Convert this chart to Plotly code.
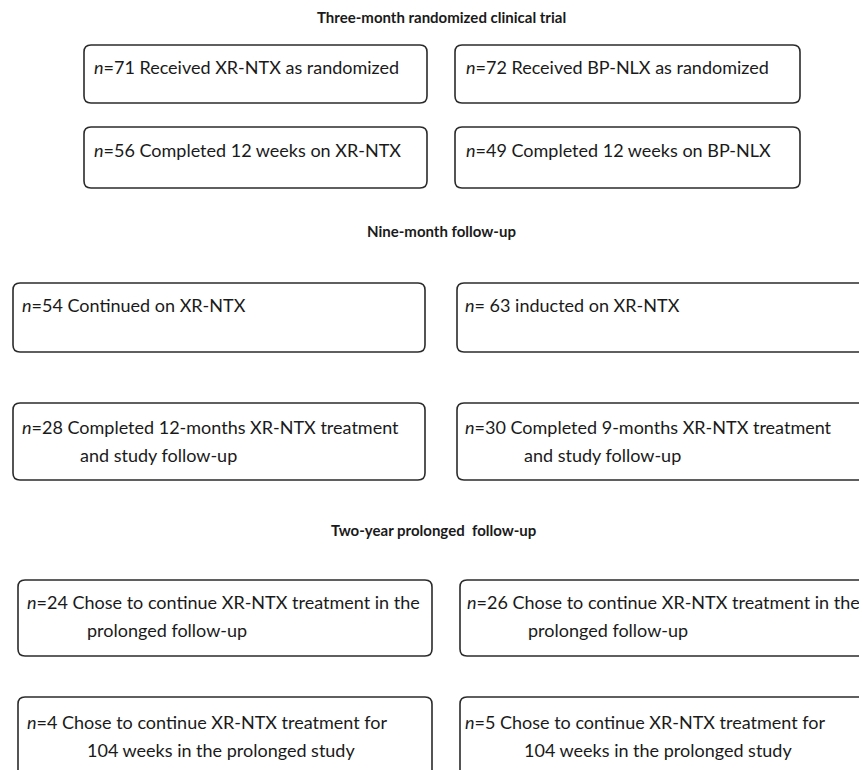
import plotly.graph_objects as go

# --- data -------------------------------------------------------------
section_titles = ["Three-month randomized clinical trial",
                  "Nine-month follow-up",
                  "Two-year prolonged  follow-up"]

left_n = [71, 56, 54, 28, 24, 4]
right_n = [72, 49, 63, 30, 26, 5]

left_text = [
    ["Received XR-NTX as randomized"],
    ["Completed 12 weeks on XR-NTX"],
    ["Continued on XR-NTX"],
    ["Completed 12-months XR-NTX treatment", "and study follow-up"],
    ["Chose to continue XR-NTX treatment in the", "prolonged follow-up"],
    ["Chose to continue XR-NTX treatment for", "104 weeks in the prolonged study"],
]
right_text = [
    ["Received BP-NLX as randomized"],
    ["Completed 12 weeks on BP-NLX"],
    ["inducted on XR-NTX"],
    ["Completed 9-months XR-NTX treatment", "and study follow-up"],
    ["Chose to continue XR-NTX treatment in the", "prolonged follow-up"],
    ["Chose to continue XR-NTX treatment for", "104 weeks in the prolonged study"],
]
n_sep = ["=", "=", "=", "=", "=", "="]
right_sep = ["=", "=", "= ", "=", "=", "="]

# --- layout geometry (page pixels) ------------------------------------
PAGE_W, PAGE_H = 867, 770
OFF = 8  # default page body margin
W, H = PAGE_W - OFF, PAGE_H - OFF
title_pos = [(441, 17), (441, 231), (433, 530)]
left_boxes = [(84, 427, 45, 103), (84, 427, 127, 188), (13, 425, 283, 352),
              (13, 425, 403, 480), (18, 432, 580, 656), (18, 432, 697, 790)]
right_boxes = [(455, 800, 45, 103), (455, 800, 127, 188), (457, 880, 283, 352),
               (457, 880, 403, 480), (460, 880, 580, 656), (460, 880, 697, 790)]
left_text_x = [92, 92, 20, 20, 25, 25]
right_text_x = [464, 464, 463, 463, 465, 463]
left_line2_x = [None, None, None, 78, 85, 85]
right_line2_x = [None, None, None, 522, 526, 522]
line1_y = [67, 150, 305, 427, 602, 722]
line_gap = 28

FONT = "Lato"
TEXT_SIZE = 18
TEXT_COLOR = "#1a1a1a"


def rounded_path(x0, x1, y0, y1, r=7):
    return (f"M {x0+r},{y0} L {x1-r},{y0} Q {x1},{y0} {x1},{y0+r} "
            f"L {x1},{y1-r} Q {x1},{y1} {x1-r},{y1} L {x0+r},{y1} "
            f"Q {x0},{y1} {x0},{y1-r} L {x0},{y0+r} Q {x0},{y0} {x0+r},{y0} Z")


fig = go.Figure()
fig.add_trace(go.Scatter(x=[OFF, PAGE_W], y=[OFF, PAGE_H], mode="markers",
                         marker=dict(opacity=0), hoverinfo="skip",
                         showlegend=False))

shapes = []
for boxes in (left_boxes, right_boxes):
    for (x0, x1, y0, y1) in boxes:
        shapes.append(dict(type="path", path=rounded_path(x0, x1, y0, y1),
                           line=dict(color="#2b2b2b", width=1.6),
                           fillcolor="rgba(0,0,0,0)", layer="above"))

annotations = []
for t, (tx, ty) in zip(section_titles, title_pos):
    annotations.append(dict(x=tx, y=ty, text=f"<b>{t}</b>", showarrow=False,
                            xanchor="center", yanchor="middle",
                            font=dict(family=FONT, size=15, color=TEXT_COLOR)))


def add_box_text(ns, texts, seps, x1s, x2s):
    for i, (n, lines) in enumerate(zip(ns, texts)):
        annotations.append(dict(
            x=x1s[i], y=line1_y[i],
            text=f"<i>n</i>{seps[i]}{n} {lines[0]}",
            showarrow=False, xanchor="left", yanchor="middle",
            font=dict(family=FONT, size=TEXT_SIZE, color=TEXT_COLOR)))
        if len(lines) > 1:
            annotations.append(dict(
                x=x2s[i], y=line1_y[i] + line_gap, text=lines[1],
                showarrow=False, xanchor="left", yanchor="middle",
                font=dict(family=FONT, size=TEXT_SIZE, color=TEXT_COLOR)))


add_box_text(left_n, left_text, n_sep, left_text_x, left_line2_x)
add_box_text(right_n, right_text, right_sep, right_text_x, right_line2_x)

fig.update_layout(
    width=W, height=H,
    margin=dict(l=0, r=0, t=0, b=0),
    paper_bgcolor="white", plot_bgcolor="white",
    xaxis=dict(range=[OFF, PAGE_W], visible=False, fixedrange=True),
    yaxis=dict(range=[PAGE_H, OFF], visible=False, fixedrange=True),
    shapes=shapes, annotations=annotations, showlegend=False,
)

fig.write_html("out.html")
